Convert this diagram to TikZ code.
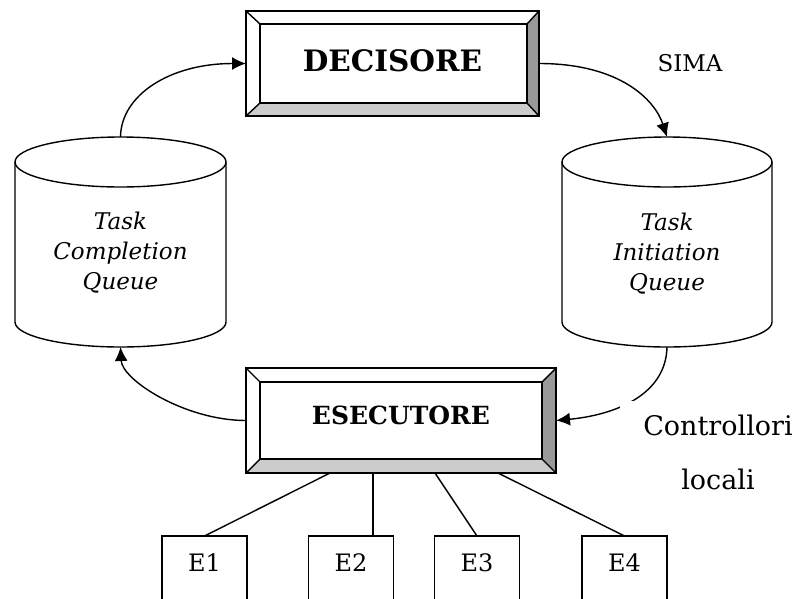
\documentclass[tikz,border=0pt]{standalone}
\usepackage{fontspec}
\setmainfont{DejaVu Serif}
\usetikzlibrary{calc,arrows.meta}
\definecolor{bevdark}{gray}{0.6}
\definecolor{bevlight}{gray}{0.8}

% Raised panel drawn around a named node: #1 node, #2 left, #3 top, #4 right, #5 bottom bevel
\newcommand\bevelbox[5]{%
  \coordinate (#1-a) at ($(#1.north west)+(#2,#3)$);
  \coordinate (#1-b) at ($(#1.north east)+(-#4,#3)$);
  \coordinate (#1-c) at ($(#1.south east)+(-#4,-#5)$);
  \coordinate (#1-d) at ($(#1.south west)+(#2,-#5)$);
  \fill[bevlight] (#1.south west) -- (#1.south east) -- (#1-c) -- (#1-d) -- cycle;
  \fill[bevdark] (#1.north east) -- (#1.south east) -- (#1-c) -- (#1-b) -- cycle;
  \draw[line join=miter] (#1.north west) rectangle (#1.south east);
  \draw (#1-a) rectangle (#1-c);
  \draw (#1.north west) -- (#1-a) (#1.north east) -- (#1-b)
        (#1.south east) -- (#1-c) (#1.south west) -- (#1-d);
}

% Drum (storage cylinder) around a text node: #1 node, #2 x radius,
% #3 distance up to the top, #4 distance down to the bottom, #5 y radius
\newcommand\drum[5]{%
  \coordinate (#1-top) at ($(#1.center)+(0,-#3)$);
  \coordinate (#1-bot) at ($(#1.center)+(0,#4)$);
  \draw ($(#1-top)+(0,#5)$) ellipse [x radius=#2pt, y radius=#5pt];
  \draw ($(#1-top)+(-#2,#5)$) -- ($(#1-bot)+(-#2,-#5)$)
        arc [start angle=180, end angle=360, x radius=#2pt, y radius=#5pt]
        -- ($(#1-top)+(#2,#5)$);
}

\begin{document}
\begin{tikzpicture}[x=1pt,y=-1pt,line width=1.4pt,
  panel/.style={inner sep=0pt, outer sep=0pt, minimum height=105pt},
  queue/.style={align=center, inner sep=0pt, font=\itshape\fontsize{23}{30}\selectfont},
  unit/.style={minimum width=85pt, minimum height=54pt, inner sep=0pt, outer sep=0pt,
               font=\fontsize{24}{28}\selectfont},
  flow/.style={-{Latex[length=14pt,width=13pt]}},
  caption/.style={inner sep=0pt, font=\fontsize{23}{28}\selectfont}
]
\useasboundingbox (0,0) rectangle (801,598);

% controller panels
\node[panel, minimum width=293pt, font=\bfseries\fontsize{29.5}{34}\selectfont]
  (dec) at (392.5,63.5) {\raisebox{3pt}[\height][\depth]{DECISORE}};
\bevelbox{dec}{14}{13}{12}{13}
\node[panel, minimum width=310pt, font=\bfseries\fontsize{25}{28}\selectfont]
  (exe) at (401,420.5) {\raisebox{5pt}[\height][\depth]{ESECUTORE}};
\bevelbox{exe}{14}{14}{14}{14}

% queues
\node[queue] (tcq) at (120.5,253) {Task\\Completion\\Queue};
\drum{tcq}{105.5}{116}{94}{25}
\node[queue] (tiq) at (667,254) {Task\\Initiation\\Queue};
\drum{tiq}{105}{117}{93}{25}

% cycle
\draw[flow] (tcq-top) .. controls (121,95) and (170,63.5) .. (dec.west);
\draw[flow] (dec.east) .. controls (620,63.5) and (655,100) .. (tiq-top);
\draw[flow] (tiq-bot) .. controls (666,395) and (615,415) .. (exe.east);
\draw[flow] (exe.west) .. controls (185,420.5) and (122,380) .. (tcq-bot);

% executors
\node[unit] (e1) at (204.5,563) {E1};
\node[unit] (e2) at (351,563) {E2};
\node[unit] (e3) at (477,563) {E3};
\node[unit] (e4) at (624.5,563) {E4};
\foreach \e in {e1,e2,e3,e4}
  \draw ($(\e.north west)+(0,70)$) -- (\e.north west) -- (\e.north east) -- ++(0,70);

\coordinate (s1) at ($(exe.south west)+(84,0)$);
\coordinate (s2) at ($(exe.south west)+(127,0)$);
\coordinate (s3) at ($(exe.south west)+(189,0)$);
\coordinate (s4) at ($(exe.south west)+(252,0)$);
\draw (s1) -- (e1.north);
\draw (s2) -- (s2 |- e2.north);
\draw (s3) -- (e3.north);
\draw (s4) -- (e4.north);

% labels
\node[caption] (sima) at (690,63) {SIMA};
\node[fill=white, align=center, inner xsep=23pt, inner ysep=14pt,
      font=\fontsize{27}{54}\selectfont] (ctrl) at (718,452) {Controllori\\locali};
\end{tikzpicture}
\end{document}
